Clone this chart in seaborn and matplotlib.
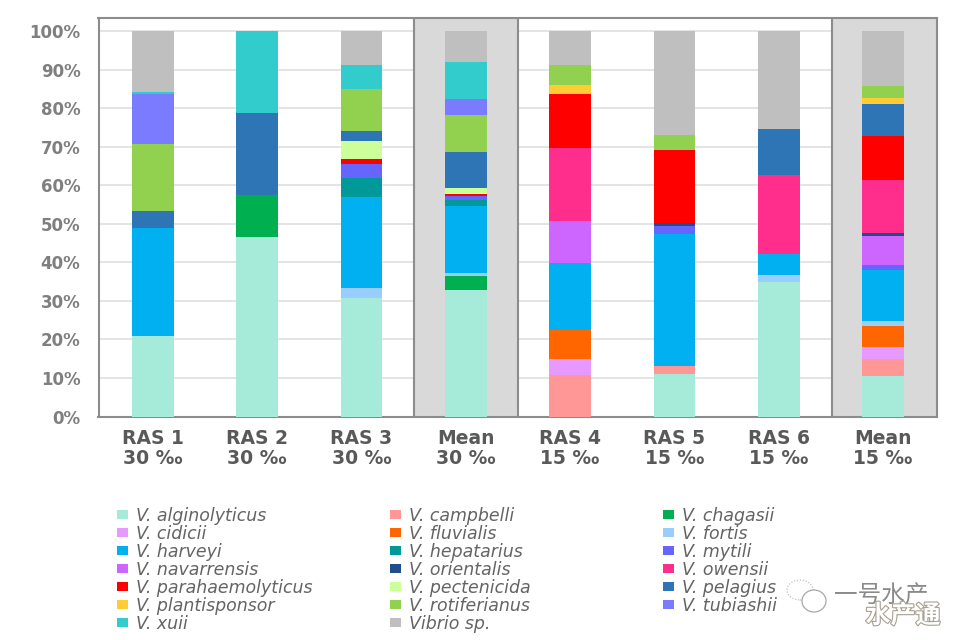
import matplotlib
matplotlib.use("Agg")
import matplotlib.pyplot as plt
import matplotlib.patheffects as pe
from matplotlib.patches import Patch, Ellipse
import numpy as np
import seaborn as sns

sns.set_theme(style="whitegrid")
plt.rcParams['font.family'] = ['DejaVu Sans']

# bars, left to right
bar_labels = ['RAS 1\n30 ‰', 'RAS 2\n30 ‰', 'RAS 3\n30 ‰', 'Mean\n30 ‰',
              'RAS 4\n15 ‰', 'RAS 5\n15 ‰', 'RAS 6\n15 ‰', 'Mean\n15 ‰']

# percent per species, same order as bar_labels
alginolyticus = [20.8, 46.7, 30.8, 32.9, 0, 11.0, 34.8, 10.6]
campbelli = [0, 0, 0, 0, 10.7, 2.0, 0, 4.4]
chagasii = [0, 10.7, 0, 3.5, 0, 0, 0, 0]
cidicii = [0, 0, 0, 0, 4.3, 0, 0, 3.0]
fluvialis = [0, 0, 0, 0, 7.5, 0, 0, 5.4]
fortis = [0, 0, 2.6, 0.8, 0, 0, 2.0, 1.3]
harveyi = [28.2, 0, 23.5, 17.3, 17.4, 34.4, 5.3, 13.3]
hepatarius = [0, 0, 5.0, 1.6, 0, 0, 0, 0]
mytili = [0, 0, 3.5, 1.1, 0, 1.9, 0, 1.4]
navarrensis = [0, 0, 0, 0, 10.7, 0, 0, 7.5]
orientalis = [0, 0, 0, 0, 0, 1.0, 0, 0.7]
owensii = [0, 0, 0, 0, 19.1, 0, 20.5, 13.8]
parahaemolyticus = [0, 0, 1.5, 0.5, 14.0, 18.8, 0, 11.4]
pectenicida = [0, 0, 4.7, 1.6, 0, 0, 0, 0]
pelagius = [4.3, 21.4, 2.5, 9.4, 0, 0, 12.0, 8.2]
plantisponsor = [0, 0, 0, 0, 2.3, 0, 0, 1.6]
rotiferianus = [17.5, 0, 11.0, 9.5, 5.3, 4.0, 0, 3.2]
tubiashii = [12.9, 0, 0, 4.3, 0, 0, 0, 0]
xuii = [0.6, 21.2, 6.2, 9.5, 0, 0, 0, 0]
vibrio_sp = [15.7, 0, 8.7, 8.0, 8.7, 26.9, 25.4, 14.2]

# name, values, colour - bottom of the stack first
species = [
    ('V. alginolyticus', alginolyticus, '#A6EBD9'),
    ('V. campbelli', campbelli, '#FF9797'),
    ('V. chagasii', chagasii, '#00B050'),
    ('V. cidicii', cidicii, '#E699FF'),
    ('V. fluvialis', fluvialis, '#FF6600'),
    ('V. fortis', fortis, '#99CCFF'),
    ('V. harveyi', harveyi, '#00B0F0'),
    ('V. hepatarius', hepatarius, '#009999'),
    ('V. mytili', mytili, '#6666FF'),
    ('V. navarrensis', navarrensis, '#CC66FF'),
    ('V. orientalis', orientalis, '#1F4E8C'),
    ('V. owensii', owensii, '#FF2D8C'),
    ('V. parahaemolyticus', parahaemolyticus, '#FF0000'),
    ('V. pectenicida', pectenicida, '#CCFF99'),
    ('V. pelagius', pelagius, '#2E75B6'),
    ('V. plantisponsor', plantisponsor, '#FFCC33'),
    ('V. rotiferianus', rotiferianus, '#92D050'),
    ('V. tubiashii', tubiashii, '#7B7BFF'),
    ('V. xuii', xuii, '#33CCCC'),
    ('Vibrio sp.', vibrio_sp, '#BFBFBF'),
]

fig = plt.figure(figsize=(9.6, 6.4), dpi=100, facecolor='white')
ax = fig.add_axes([98.5 / 960, 223.5 / 640, 838.5 / 960, 398.5 / 640])

# stacked bars
bottom = np.zeros(len(bar_labels))
for name, values, color in species:
    sns.barplot(x=bar_labels, y=values, bottom=bottom, color=color, saturation=1,
                width=0.4, errorbar=None, linewidth=0, zorder=3, ax=ax)
    bottom += np.array(values)

ax.set_xlim(-0.522, 7.518)
ax.set_ylim(0, 103.4)
ax.set_yticks(range(0, 101, 10))
ax.set_yticklabels([f'{v}%' for v in range(0, 101, 10)], fontsize=12,
                   color='#7F7F7F', fontweight='bold')
ax.tick_params(axis='x', length=0, pad=9, labelsize=13.5, labelcolor='#595959')
ax.tick_params(axis='y', length=0, pad=13)
for lab in ax.get_xticklabels():
    lab.set_fontweight('bold')
    lab.set_linespacing(1.1)

ax.set_axisbelow(True)
ax.grid(False, axis='x')
ax.grid(True, axis='y', color='#E2E2E2', linewidth=1.3)

# grey bands behind the mean bars
ax.axvspan(2.5, 3.5, color='#D9D9D9', lw=0, zorder=1)
ax.axvspan(6.51, 7.518, color='#D9D9D9', lw=0, zorder=1)
for c in [2.5, 3.5, 6.51]:
    ax.axvline(c, color='#8C8C8C', lw=1.5, zorder=2)
for s in ax.spines.values():
    s.set_color('#8C8C8C')
    s.set_linewidth(1.5)

# legend, one block per column
for col, x in enumerate([117 / 960, 390 / 960, 663 / 960]):
    rows = species[col::3]
    handles = [Patch(facecolor=c, edgecolor='none', label=n) for n, _, c in rows]
    fig.legend(handles=handles, loc='upper left', bbox_to_anchor=(x, 1 - 507 / 640),
               frameon=False, handlelength=0.65, handleheight=0.45, handletextpad=0.45,
               labelspacing=0.0, borderpad=0, borderaxespad=0,
               prop={'size': 12.5, 'style': 'italic'}, labelcolor='#646464')

# watermark bottom right
cjk = ['Noto Sans CJK SC', 'DejaVu Sans']
fig.add_artist(Ellipse((800 / 960, 1 - 590 / 640), 26 / 960, 20 / 640, fc='white',
                       ec='#B5B5B5', lw=0.8, ls=':', transform=fig.transFigure, zorder=10))
fig.add_artist(Ellipse((814 / 960, 1 - 601 / 640), 24 / 960, 22 / 640, fc='white',
                       ec='#A8A8A8', lw=0.9, transform=fig.transFigure, zorder=10))
fig.text(881 / 960, 1 - 595 / 640, '一号水产', family=cjk, fontsize=17, color='#8A8A8A',
         ha='center', va='center', zorder=10)
fig.text(903 / 960, 1 - 616 / 640, '水产通', family=cjk, fontsize=18, fontweight='bold',
         color='white', ha='center', va='center', zorder=11,
         path_effects=[pe.withStroke(linewidth=1.6, foreground='#A89F90')])

fig.savefig('out.png', dpi=100)
